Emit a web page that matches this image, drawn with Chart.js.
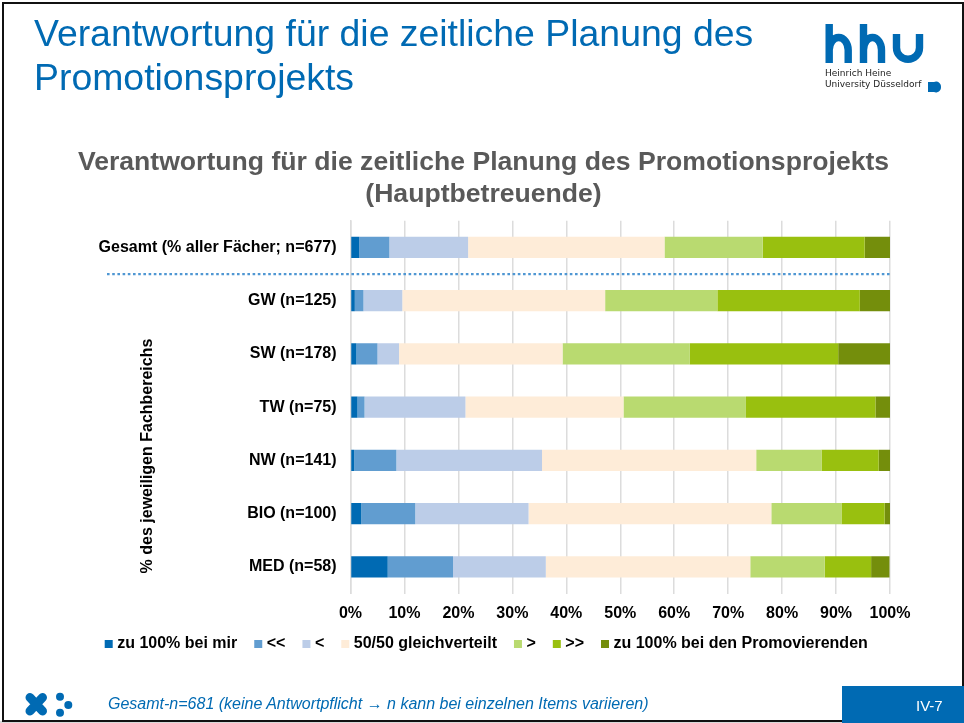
<!DOCTYPE html>
<html lang="de"><head><meta charset="utf-8">
<script src="https://cdn.jsdelivr.net/npm/chart.js@4"></script>
<style>
html,body{margin:0;padding:0;background:#fff;overflow:hidden}
#slide{position:relative;width:964px;height:723px;font-family:"Liberation Sans",Arial,sans-serif;overflow:hidden}
#frame{position:absolute;left:2px;top:2px;width:958px;height:716px;border:2px solid #111;box-sizing:content-box;}
#under{position:absolute;left:0;top:721px;width:964px;height:2px;background:#d9d9d9}
#chart{position:absolute;left:0;top:0}
.t{position:absolute;white-space:nowrap}
#head{left:34px;top:11px;font-size:37.4px;line-height:44px;color:#006ab3}
#yt{left:147px;top:455.5px;font-size:16px;font-weight:bold;color:#000;transform:translate(-50%,-50%) rotate(-90deg)}
#foot{left:108px;top:695px;font-size:16px;font-style:italic;color:#006ab3}
#pg{left:842px;top:686px;width:122px;height:37px;background:#006ab3}
#pgt{left:916px;top:697px;font-size:15px;color:#fff}
.lg{font-family:"DejaVu Sans",sans-serif;font-size:9px;color:#222;left:825px}
svg{position:absolute;left:0;top:0}
</style></head><body>
<div id="slide">
<canvas id="chart" width="964" height="723"></canvas>
<div id="under"></div>
<div id="frame"></div>
<div class="t" id="head">Verantwortung für die zeitliche Planung des<br>Promotionsprojekts</div>
<svg width="964" height="723" fill="none" stroke="#006ab3">
 <g stroke-width="7.4">
 <path d="M829.2 24V63M829.2 50a9.5 12.5 0 0 1 19 0V63"/>
 <path d="M863.5 24V63M863.5 50a9 12.5 0 0 1 18 0V63"/>
 <path d="M896.5 34V47.7a11.5 11.5 0 0 0 23 0V34"/>
 </g>
 <path d="M928 82h6a5 5 0 0 1 7 5 5 5 0 0 1-7 5h-6z" fill="#006ab3" stroke="none"/>
 <path d="M30 697.5L42.5 711M42.5 697.5L30 711" stroke-width="9" stroke-linecap="round"/>
 <g fill="#006ab3" stroke="none"><circle cx="60" cy="696.7" r="4"/><circle cx="68.3" cy="705" r="4"/><circle cx="60" cy="712.7" r="4"/></g>
</svg>
<div class="t lg" style="top:68px">Heinrich Heine</div>
<div class="t lg" style="top:79px">University Düsseldorf</div>
<div class="t" id="yt">% des jeweiligen Fachbereichs</div>
<div class="t" id="foot">Gesamt-n=681 (keine Antwortpflicht → n kann bei einzelnen Items variieren)</div>
<div class="t" id="pg"></div>
<div class="t" id="pgt">IV-7</div>
</div>
<script>
const categories = ["Gesamt (% aller Fächer; n=677)","GW (n=125)","SW (n=178)","TW (n=75)","NW (n=141)","BIO (n=100)","MED (n=58)"];
const seriesNames = ["zu 100% bei mir","<<","<","50/50 gleichverteilt",">",">>","zu 100% bei den Promovierenden"];
const bei_mir   = [1.6, 0.8, 1.1, 1.3, 0.7, 2, 6.9];
const stark_mir = [5.6, 1.6, 3.9, 1.3, 7.8, 10, 12.1];
const eher_mir  = [14.6, 7.2, 4.0, 18.7, 27, 21, 17.2];
const gleich    = [36.4, 37.6, 30.3, 29.3, 39.7, 45, 37.9];
const eher_prom = [18.2, 20.8, 23.6, 22.7, 12.1, 13, 13.8];
const stark_prom= [18.9, 26.4, 27.5, 24, 10.6, 8, 8.6];
const bei_prom  = [4.7, 5.6, 9.6, 2.7, 2.1, 1, 3.4];
const allSeries = [bei_mir, stark_mir, eher_mir, gleich, eher_prom, stark_prom, bei_prom];
const colors = ["#006ab3","#619dd0","#bccde8","#feecd8","#b9da70","#99c00f","#748e0c"];
const xTicks = [0,10,20,30,40,50,60,70,80,90,100];
const chartTitle = ["Verantwortung für die zeitliche Planung des Promotionsprojekts","(Hauptbetreuende)"];
const FONT = '"Liberation Sans", Arial, sans-serif';

const separator = {
  id:'separator',
  afterLayout(chart){
    const l = chart.legend;
    l.top -= 4; l.bottom -= 4; l.left += 4.5; l.right += 4.5;
  },
  afterDatasetsDraw(chart){
    const y = chart.scales.y.getPixelForValue(0.5), c = chart.ctx;
    c.save(); c.strokeStyle='#4f97d3'; c.lineWidth=2.4; c.setLineDash([2.6,2.6]);
    c.beginPath(); c.moveTo(107,y); c.lineTo(chart.chartArea.right,y); c.stroke(); c.restore();
  }
};
new Chart(document.getElementById('chart'),{
  type:'bar',
  data:{labels:categories,datasets:allSeries.map((d,i)=>({label:seriesNames[i],data:d,backgroundColor:colors[i],borderWidth:0}))},
  plugins:[separator],
  options:{
    indexAxis:'y',responsive:false,animation:false,
    layout:{padding:{left:3,right:0,top:0,bottom:57}},
    datasets:{bar:{barPercentage:0.4,categoryPercentage:1}},
    scales:{
      x:{stacked:true,min:0,max:100,
        afterFit(s){s.height=26;s.paddingRight=74;},
        afterBuildTicks(s){s.ticks=xTicks.map(v=>({value:v}));},
        grid:{color:'#dcdcdc',lineWidth:1.5,drawTicks:false},border:{display:false},
        ticks:{padding:10,maxRotation:0,autoSkip:false,color:'#000',font:{family:FONT,size:16,weight:'bold'},callback:v=>v+'%'}},
      y:{stacked:true,
        afterFit(s){s.width=347.5;},
        grid:{display:false,drawTicks:false},border:{color:'#dcdcdc',width:1.5},
        ticks:{padding:14,color:'#000',font:{family:FONT,size:16,weight:'bold'}}}
    },
    plugins:{
      title:{display:true,text:chartTitle,color:'#595959',font:{family:FONT,size:26.6,weight:'bold',lineHeight:1.2},padding:{top:147,bottom:10}},
      legend:{position:'bottom',
        labels:{boxWidth:1,boxHeight:1,padding:20.5,color:'#000',font:{family:FONT,size:16,weight:'bold'},
          generateLabels(chart){return Chart.defaults.plugins.legend.labels.generateLabels(chart).map(l=>({...l,strokeStyle:l.fillStyle,lineWidth:7}));}}},
      tooltip:{enabled:false}
    }
  }
});
</script>
</body></html>
